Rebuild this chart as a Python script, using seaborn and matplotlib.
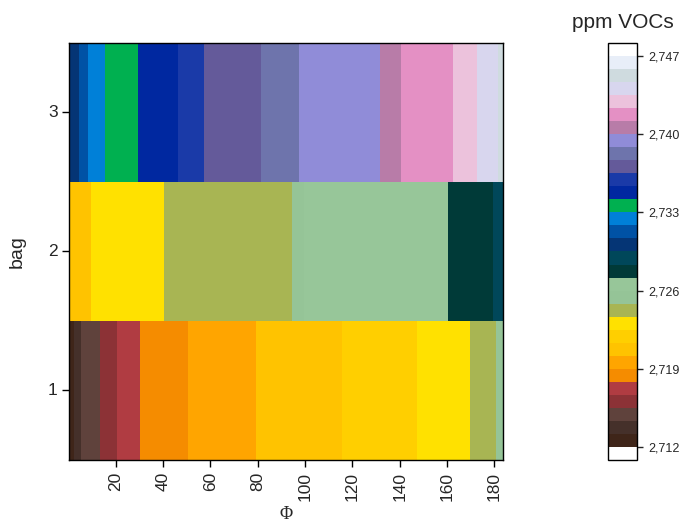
import numpy as np
import pandas as pd
import matplotlib
matplotlib.use("Agg")
import matplotlib.pyplot as plt
import seaborn as sns
from matplotlib.colors import ListedColormap, BoundaryNorm
from matplotlib.ticker import FuncFormatter

# bag rows (top to bottom) and the Φ positions of each cell
bags = [3, 2, 1]
phi = np.arange(1, 184)

# each band: last Φ of the band and its ppm VOCs value
bag1_ends = [2, 5, 13, 20, 30, 50, 79, 115, 147, 169, 180, 183]
bag1_ppm = [2.7126, 2.7138, 2.7149, 2.7161, 2.7173, 2.7184, 2.7196, 2.7208,
            2.7219, 2.7231, 2.7243, 2.7254]
bag2_ends = [9, 40, 94, 99, 160, 179, 183]
bag2_ppm = [2.7208, 2.7231, 2.7243, 2.7254, 2.7266, 2.7278, 2.7289]
bag3_ends = [4, 8, 15, 29, 46, 57, 81, 97, 131, 140, 162, 172, 181, 183]
bag3_ppm = [2.7301, 2.7313, 2.7324, 2.7336, 2.7348, 2.7359, 2.7371, 2.7383,
            2.7394, 2.7406, 2.7418, 2.7429, 2.7441, 2.7453]

x_ticks = [20, 40, 60, 80, 100, 120, 140, 160, 180]
cbar_ticks = [2.712, 2.719, 2.726, 2.733, 2.740, 2.747]

# 30 colour levels from 2,712 to 2,747
level_colors = [
    "#3f2519", "#45302a", "#5f423c", "#8c3236", "#b03c42",
    "#f58c00", "#ffa500", "#ffc300", "#ffcf00", "#ffe100",
    "#a8b553", "#95c497", "#97c699", "#003a38", "#00475a",
    "#053575", "#0052a5", "#0080d8", "#00b050", "#0028a0",
    "#1a3aa8", "#645a9a", "#6e74ac", "#908cd8", "#b87ca8",
    "#e490c4", "#ecc2dc", "#d8d6ee", "#cfdbdf", "#e8eef8",
]


def expand(ends, vals):
    row = []
    start = 0
    for e, v in zip(ends, vals):
        row += [v] * (e - start)
        start = e
    return row


df = pd.DataFrame(
    [expand(bag3_ends, bag3_ppm), expand(bag2_ends, bag2_ppm), expand(bag1_ends, bag1_ppm)],
    index=bags, columns=phi,
)

sns.set_style("white")
plt.rcParams["font.family"] = ["Liberation Sans", "DejaVu Sans"]

cmap = ListedColormap(level_colors).with_extremes(over="white", under="white")
norm = BoundaryNorm(np.linspace(2.712, 2.747, 31), cmap.N)

fig = plt.figure(figsize=(6.81, 5.23), dpi=100)
ax = fig.add_axes([0.1018, 0.1205, 0.6364, 0.7973])
cax = fig.add_axes([0.8932, 0.1205, 0.0426, 0.7973])

sns.heatmap(
    df, ax=ax, cbar_ax=cax, cmap=cmap, norm=norm,
    cbar_kws=dict(extend="both", extendrect=True, extendfrac=1 / 30,
                  ticks=cbar_ticks,
                  format=FuncFormatter(lambda v, p: f"{v:.3f}".replace(".", ","))),
)

ax.set_xticks([t - 0.5 for t in x_ticks])
ax.set_xticklabels([str(t) for t in x_ticks], rotation=90)
ax.set_yticks([0.5, 1.5, 2.5])
ax.set_yticklabels([str(b) for b in bags], rotation=0)
ax.tick_params(axis="both", direction="out", length=5, width=1, color="black",
               labelsize=12.5, left=True, bottom=True)
for s in ax.spines.values():
    s.set_visible(True)
    s.set_color("black")
    s.set_linewidth(1)

ax.set_ylabel("bag", fontsize=14)
ax.yaxis.set_label_coords(-0.1, 0.5)
ax.set_xlabel("Φ", fontsize=13, family=["Liberation Serif", "DejaVu Serif"])
ax.xaxis.set_label_coords(0.5, -0.11)

cb = ax.collections[0].colorbar
cb.minorticks_off()
cb.outline.set_linewidth(1)
cb.outline.set_edgecolor("black")
cax.tick_params(direction="out", length=4, width=1, labelsize=9, pad=4, right=True)
fig.text(0.915, 0.9474, "ppm VOCs", ha="center", va="baseline", fontsize=15)

fig.savefig("out.png", dpi=100)
